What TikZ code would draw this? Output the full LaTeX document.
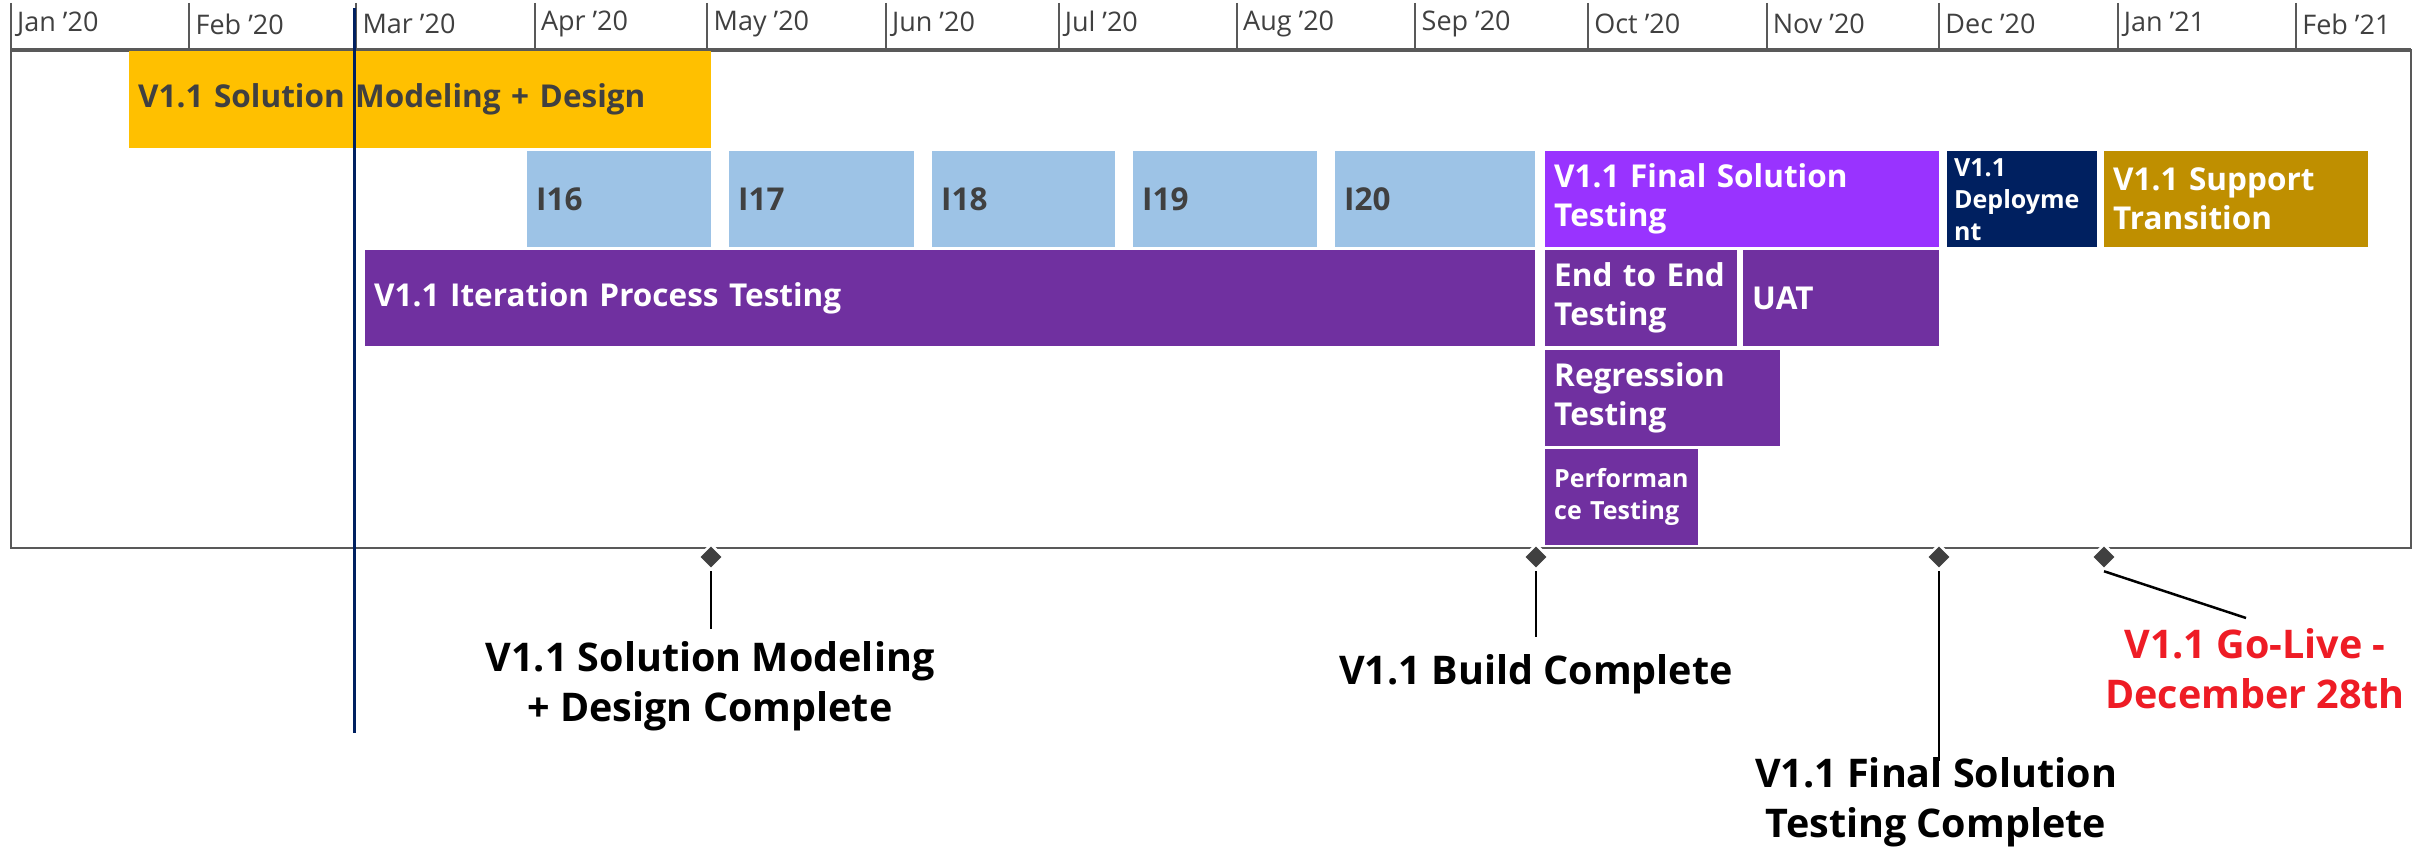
\documentclass[tikz,border=0pt]{standalone}
\usepackage{fontspec}
\setmainfont{Open Sans}
\usetikzlibrary{shapes.geometric}

\definecolor{designyellow}{HTML}{FFC000}
\definecolor{iterblue}{HTML}{9DC3E6}
\definecolor{finalpurple}{HTML}{9933FF}
\definecolor{testpurple}{HTML}{7030A0}
\definecolor{deploynavy}{HTML}{002060}
\definecolor{supportgold}{HTML}{BF8F00}
\definecolor{darktext}{HTML}{404040}
\definecolor{framegray}{HTML}{595959}
\definecolor{golivered}{HTML}{EE1C25}

\tikzset{task/.style={anchor=north west,inner xsep=9pt,inner ysep=0pt,minimum height=96pt,align=left,text=white,font=\bfseries\fontsize{31.5}{39}\selectfont},
         smalltask/.style={task,font=\bfseries\fontsize{25}{32}\selectfont},
         monthtick/.style={draw=framegray,line width=2pt},
         month/.style={anchor=west,inner sep=0pt,text=darktext,font=\fontsize{27}{30}\selectfont},
         miletip/.style={diamond,fill=darktext,draw=white,line width=2.5pt,inner sep=0pt,minimum size=26pt},
         stem/.style={line width=2.5pt,black},
         milelabel/.style={align=center,inner sep=0pt,font=\bfseries\fontsize{39.5}{50}\selectfont}}

\begin{document}
\begin{tikzpicture}[x=1pt,y=-1pt]
\useasboundingbox[fill=white] (0,0) rectangle (2436,851);

% month scale
\foreach \d/\m in {0/Jan '20,31/Feb '20,60/Mar '20,91/Apr '20,121/May '20,152/Jun '20,182/Jul '20,213/Aug '20,244/Sep '20,274/Oct '20,305/Nov '20,335/Dec '20,366/Jan '21,397/Feb '21}{
  \draw[monthtick] ({11+5.756*\d},3) -- ({11+5.756*\d},50);
  \node[month] (m\d) at ({17+5.756*\d},24) {\m};
}
\draw[framegray,line width=2.5pt] (11,50) rectangle (2411,548);
\draw[framegray,line width=4pt] (11,50) -- (2411,50);

% bars
\node[task,fill=designyellow,text=darktext,minimum width=582pt,text width=564pt,minimum height=97pt] (design) at (129,51) {V1.1 Solution Modeling + Design};
\node[task,fill=iterblue,text=darktext,minimum width=184pt,text width=166pt] (i16) at (527,151) {I16};
\node[task,fill=iterblue,text=darktext,minimum width=185pt,text width=167pt] (i17) at (729,151) {I17};
\node[task,fill=iterblue,text=darktext,minimum width=183pt,text width=165pt] (i18) at (932,151) {I18};
\node[task,fill=iterblue,text=darktext,minimum width=184pt,text width=166pt] (i19) at (1133,151) {I19};
\node[task,fill=iterblue,text=darktext,minimum width=200pt,text width=182pt] (i20) at (1335,151) {I20};
\node[task,fill=finalpurple,minimum width=394pt,text width=376pt] (final) at (1545,151) {V1.1 Final Solution\\Testing};
\node[smalltask,fill=deploynavy,minimum width=150pt,text width=136pt,inner xsep=7pt] (deploy) at (1947,151) {V1.1\\Deployme\\nt};
\node[task,fill=supportgold,minimum width=264pt,text width=246pt] (support) at (2104,151) {V1.1 Support\\Transition};
\node[task,fill=testpurple,minimum width=1170pt,text width=1152pt] (iter) at (365,250) {V1.1 Iteration Process Testing};
\node[task,fill=testpurple,minimum width=192pt,text width=174pt] (e2e) at (1545,250) {End to End\\Testing};
\node[task,fill=testpurple,minimum width=196pt,text width=178pt] (uat) at (1743,250) {UAT};
\node[task,fill=testpurple,minimum width=235pt,text width=217pt] (regr) at (1545,350) {Regression\\Testing};
\node[smalltask,fill=testpurple,minimum width=153pt,text width=135pt] (perf) at (1545,449) {Performan\\ce Testing};

% status date
\draw[deploynavy,line width=3pt] (354,8) -- (354,733);

% milestones
\node[miletip] (d1) at (711,557) {};
\node[miletip] (d2) at (1536,557) {};
\node[miletip] (d3) at (1939,557) {};
\node[miletip] (d4) at (2104,557) {};
\coordinate (e1) at (711,629);
\coordinate (e2) at (1536,637);
\coordinate (e3) at (1939,761);
\coordinate (e4) at (2246,618);
\draw[stem] (d1.south) -- (e1);
\draw[stem] (d2.south) -- (e2);
\draw[stem] (d3.south) -- (e3);
\draw[stem] (d4.south) -- (e4);
\node[milelabel] (l1) at (710,686) {V1.1 Solution Modeling\\+ Design Complete};
\node[milelabel] (l2) at (1536,674) {V1.1 Build Complete};
\node[milelabel] (l3) at (1936,802) {V1.1 Final Solution\\Testing Complete};
\node[milelabel,text=golivered] (l4) at (2255,669) {V1.1 Go-Live -\\December 28th};
\end{tikzpicture}
\end{document}
